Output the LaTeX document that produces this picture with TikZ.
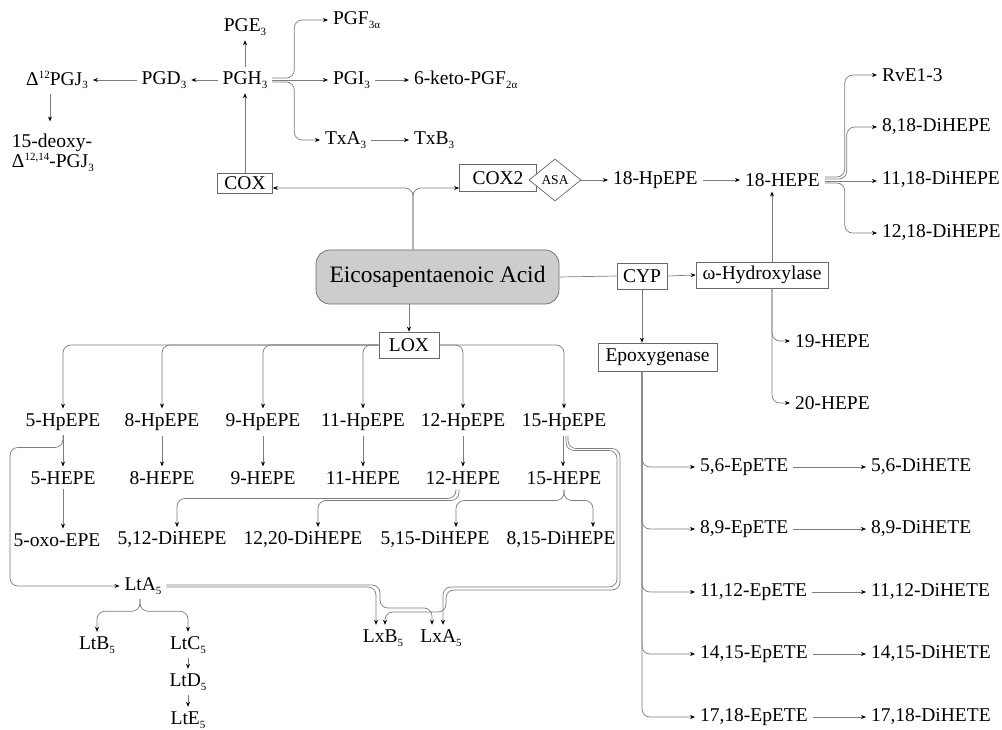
\documentclass[tikz,border=0pt]{standalone}
\usepackage{fontspec}
\setmainfont{Liberation Serif}
\usetikzlibrary{arrows.meta,shapes.geometric}
\definecolor{linec}{RGB}{125,125,125}
\definecolor{boxc}{RGB}{105,105,105}
\definecolor{acidfill}{RGB}{205,205,205}
\newcommand{\txtsize}{\fontsize{19.5}{20}\selectfont}
\newcommand{\sbs}[1]{\raisebox{-3.5pt}{\fontsize{11}{11}\selectfont #1}}
\newcommand{\sps}[1]{\raisebox{7pt}{\fontsize{11}{11}\selectfont #1}}

\begin{document}
\begin{tikzpicture}[x=1pt,y=-1pt,
  lbl/.style={font=\txtsize, inner sep=3pt, outer sep=2pt},
  wlbl/.style={lbl, anchor=west},
  box/.style={draw=boxc, line width=0.7pt, font=\txtsize, inner sep=2pt},
  acidbox/.style={draw=boxc, fill=acidfill, line width=0.7pt, rounded corners=14pt, font=\fontsize{23.5}{26}\selectfont},
  arr/.style={draw=linec, line width=0.7pt, rounded corners=8pt, -{Stealth[length=5pt,width=4pt,black]}},
  ln/.style={draw=linec, line width=0.7pt}]
\useasboundingbox (0,0) rectangle (1002,730);

\node[lbl] (pge) at (245,27) {PGE\sbs{3}};
\node[lbl] (pgh) at (245,80) {PGH\sbs{3}};
\node[lbl] (pgd) at (164,80) {PGD\sbs{3}};
\node[lbl] (pgj) at (57,80) {Δ\sps{12}PGJ\sbs{3}};
\node[wlbl, align=left] (dpgj) at (7,153) {15-deoxy-\\Δ\sps{12,14}-PGJ\sbs{3}};
\node[wlbl] (pgf) at (328,20) {PGF\sbs{3α}};
\node[wlbl] (pgi) at (328,80) {PGI\sbs{3}};
\node[wlbl] (keto) at (409,80) {6-keto-PGF\sbs{2α}};
\node[wlbl] (txa) at (320,140) {TxA\sbs{3}};
\node[wlbl] (txb) at (409,140) {TxB\sbs{3}};
\node[box, minimum width=55pt, minimum height=20pt] (cox) at (245,183) {COX};
\node[box, minimum width=77pt, minimum height=27pt] (cox2) at (498,178) {COX2};
\node[diamond, draw=boxc, fill=white, line width=0.7pt, inner sep=0pt, minimum width=52pt, minimum height=42pt, font=\fontsize{13.5}{15}\selectfont] (asa) at (555,180) {ASA};
\node[wlbl] (hpepe18) at (608,180) {18-HpEPE};
\node[wlbl] (hepe18) at (740,180) {18-HEPE};
\node[wlbl] (rve) at (877,75) {RvE1-3};
\node[wlbl] (di818) at (877,127) {8,18-DiHEPE};
\node[wlbl] (di1118) at (877,180) {11,18-DiHEPE};
\node[wlbl] (di1218) at (877,233) {12,18-DiHEPE};

\node[acidbox, minimum width=243pt, minimum height=54pt] (epa) at (437.5,277) {Eicosapentaenoic Acid};
\node[box, minimum width=50pt, minimum height=26pt] (cyp) at (642,276) {CYP};
\node[box, minimum width=132pt, minimum height=26pt] (whyd) at (762,275) {ω-Hydroxylase};
\node[box, minimum width=119pt, minimum height=28pt] (epox) at (657.5,357) {Epoxygenase};
\node[wlbl] (h19) at (790,341) {19-HEPE};
\node[wlbl] (h20) at (790,403) {20-HEPE};
\node[wlbl] (ep56) at (695,467) {5,6-EpETE};
\node[wlbl] (ep89) at (695,529) {8,9-EpETE};
\node[wlbl] (ep1112) at (695,592) {11,12-EpETE};
\node[wlbl] (ep1415) at (695,654) {14,15-EpETE};
\node[wlbl] (ep1718) at (695,717) {17,18-EpETE};
\node[wlbl] (dh56) at (866,467) {5,6-DiHETE};
\node[wlbl] (dh89) at (866,529) {8,9-DiHETE};
\node[wlbl] (dh1112) at (866,592) {11,12-DiHETE};
\node[wlbl] (dh1415) at (866,654) {14,15-DiHETE};
\node[wlbl] (dh1718) at (866,717) {17,18-DiHETE};

\node[box, minimum width=60pt, minimum height=26pt] (lox) at (409,345) {LOX};
\node[lbl] (hp5) at (63,422) {5-HpEPE};
\node[lbl] (hp8) at (162,422) {8-HpEPE};
\node[lbl] (hp9) at (263,422) {9-HpEPE};
\node[lbl] (hp11) at (363,422) {11-HpEPE};
\node[lbl] (hp12) at (463,422) {12-HpEPE};
\node[lbl] (hp15) at (564,422) {15-HpEPE};
\node[lbl] (hepe5) at (63,478) {5-HEPE};
\node[lbl] (hepe8) at (162,478) {8-HEPE};
\node[lbl] (hepe9) at (263,478) {9-HEPE};
\node[lbl] (hepe11) at (363,478) {11-HEPE};
\node[lbl] (hepe12) at (463,478) {12-HEPE};
\node[lbl] (hepe15) at (564,478) {15-HEPE};
\node[lbl] (oxo) at (57,540) {5-oxo-EPE};
\node[lbl] (di512) at (172,540) {5,12-DiHEPE};
\node[lbl] (di1220) at (303,540) {12,20-DiHEPE};
\node[lbl] (di515) at (435,540) {5,15-DiHEPE};
\node[lbl] (di815) at (561,540) {8,15-DiHEPE};
\node[lbl] (lta) at (143,586) {LtA\sbs{5}};
\node[lbl] (ltb) at (97,645) {LtB\sbs{5}};
\node[lbl] (ltc) at (188,645) {LtC\sbs{5}};
\node[lbl] (ltd) at (188,682) {LtD\sbs{5}};
\node[lbl] (lte) at (188,720) {LtE\sbs{5}};
\node[lbl] (lxb) at (383,638) {LxB\sbs{5}};
\node[lbl] (lxa) at (441,638) {LxA\sbs{5}};

\coordinate (jn) at (413,188);
\coordinate (wx) at (772,0);
\coordinate (lft) at (10,0);
\coordinate (ra) at (617,587);
\coordinate (rb) at (620,590);
\coordinate (cb) at (446,612);
\coordinate (ca) at (380,608);

\draw[arr] (pgh.north) -- (pge.south);
\draw[arr] (pgh.west) -- (pgd.east);
\draw[arr] (pgd.west) -- (pgj.east);
\draw[arr, shorten >=8pt] ([xshift=-7pt]pgj.south) -- ([xshift=-7pt]pgj.south |- dpgj.north);
\draw[arr] (cox.north) -- (cox.north |- pgh.south);
\draw[arr] ([yshift=2pt]pgh.east) -- ++(22,0) |- (pgf.west);
\draw[arr] (pgh.east) -- (pgi.west);
\draw[arr] ([yshift=-2pt]pgh.east) -- ++(22,0) |- (txa.west);
\draw[arr] (pgi.east) -- (keto.west);
\draw[arr] (txa.east) -- (txb.west);

\draw[arr] (epa.north -| jn) |- (cox.east |- jn);
\draw[arr] (epa.north -| jn) |- (cox2.west |- jn);
\draw[arr] (asa.east) -- (hpepe18.west);
\draw[arr] (hpepe18.east) -- (hepe18.west);
\draw[arr] ([yshift=3pt]hepe18.east) -- ++(20,0) |- (rve.west);
\draw[arr] ([yshift=1pt]hepe18.east) -- ++(22,0) |- (di818.west);
\draw[arr] ([yshift=-1pt]hepe18.east) -- ([yshift=-1pt]di1118.west);
\draw[arr] ([yshift=-3pt]hepe18.east) -- ++(20,0) |- (di1218.west);

\draw[ln] (epa.east) -- (cyp.west);
\draw[arr] (cyp.east) -- (whyd.west);
\draw[arr] (cyp.south) -- (cyp.south |- epox.north);
\draw[arr] (whyd.north -| wx) -- (hepe18.south -| wx);
\draw[arr] (whyd.south -| wx) |- (h19.west);
\draw[arr] (whyd.south -| wx) |- (h20.west);
\draw[arr] (epox.south -| cyp) |- (ep56.west);
\draw[arr] (epox.south -| cyp) |- (ep89.west);
\draw[arr] (epox.south -| cyp) |- (ep1112.west);
\draw[arr] (epox.south -| cyp) |- (ep1415.west);
\draw[arr] (epox.south -| cyp) |- (ep1718.west);
\draw[arr] (ep56.east) -- (dh56.west);
\draw[arr] (ep89.east) -- (dh89.west);
\draw[arr] (ep1112.east) -- (dh1112.west);
\draw[arr] (ep1415.east) -- (dh1415.west);
\draw[arr] (ep1718.east) -- (dh1718.west);

\draw[arr] (epa.south -| lox) -- (lox.north);
\draw[arr] (lox.west) -| (hp5.north);
\draw[arr] (lox.west) -| (hp8.north);
\draw[arr] (lox.west) -| (hp9.north);
\draw[arr] (lox.west) -| (hp11.north);
\draw[arr] (lox.east) -| (hp12.north);
\draw[arr] (lox.east) -| (hp15.north);
\draw[arr] (hp5) -- (hepe5);
\draw[arr] (hp8) -- (hepe8);
\draw[arr] (hp9) -- (hepe9);
\draw[arr] (hp11) -- (hepe11);
\draw[arr] (hp12) -- (hepe12);
\draw[arr] ([xshift=-1pt]hp15.south) -- ([xshift=-1pt]hepe15.north);
\draw[arr] (hepe5.south) -- (hepe5.south |- oxo.north);
\draw[arr] ([xshift=-7pt]hepe12.south) -- ++(0,9) -| ([xshift=5pt]di512.north);
\draw[arr] ([xshift=-4pt]hepe12.south) -- ++(0,11) -| ([xshift=15pt]di1220.north);
\draw[arr] (hepe15.south) -- ++(0,11) -| ([xshift=21pt]di515.north);
\draw[arr] (hepe15.south) -- ++(0,11) -| ([xshift=32pt]di815.north);

\draw[arr] (hp5.south) -- ++(0,12) -| (lft |- lta) -- (lta.west);
\draw[arr] ([xshift=-3pt]lta.south) -- ++(0,12) -| (ltb.north);
\draw[arr] ([xshift=-3pt]lta.south) -- ++(0,12) -| (ltc.north);
\draw[arr] (ltc) -- (ltd);
\draw[arr] (ltd) -- (lte);
\draw[arr] ([yshift=-1pt]lta.east) -| ([xshift=-7pt]lxb.north);
\draw[arr] ([yshift=1pt]lta.east) -| (ca) -| ([xshift=-9pt]lxa.north);
\draw[arr] ([xshift=2pt]hp15.south) -- ++(0,15) -| (ra) -| ([xshift=2pt]lxa.north);
\draw[arr] ([xshift=4pt]hp15.south) -- ++(0,13) -| (rb) -| (cb) -| ([xshift=2pt]lxb.north);
\end{tikzpicture}
\end{document}
